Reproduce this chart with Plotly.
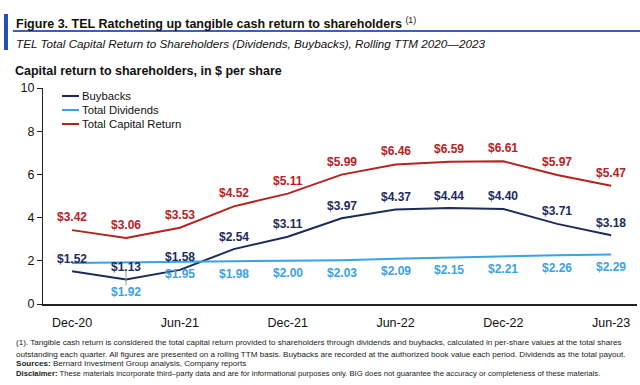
import plotly.graph_objects as go

quarters = ["Dec-20", "Mar-21", "Jun-21", "Sep-21", "Dec-21", "Mar-22",
            "Jun-22", "Sep-22", "Dec-22", "Mar-23", "Jun-23"]
tick_labels = ["Dec-20", "Jun-21", "Dec-21", "Jun-22", "Dec-22", "Jun-23"]
buybacks = [1.52, 1.13, 1.58, 2.54, 3.11, 3.97, 4.37, 4.44, 4.40, 3.71, 3.18]
dividends = [1.90, 1.92, 1.95, 1.98, 2.00, 2.03, 2.09, 2.15, 2.21, 2.26, 2.29]
total_return = [3.42, 3.06, 3.53, 4.52, 5.11, 5.99, 6.46, 6.59, 6.61, 5.97, 5.47]
series_names = ["Buybacks", "Total Dividends", "Total Capital Return"]

NAVY = "#1C2B5E"
LBLUE = "#3AA2E6"
RED = "#B7221F"
FONT = "Liberation Sans, Arial, sans-serif"

W, H = 640, 385
L, R, T, B = 43, 637, 88, 304


def px(x):
    return (x - L) / (R - L)


def py(y):
    return (B - y) / (B - T)


fig = go.Figure()
for name, vals, col in zip(series_names, [buybacks, dividends, total_return], [NAVY, LBLUE, RED]):
    fig.add_trace(go.Scatter(x=quarters, y=vals, mode="lines", name=name,
                             line=dict(color=col, width=2), showlegend=False,
                             hoverinfo="x+y"))

ann = []
# data labels
for i, q in enumerate(quarters):
    ann.append(dict(x=q, y=total_return[i], xref="x", yref="y", text=f"<b>${total_return[i]:.2f}</b>",
                    showarrow=False, yshift=13, font=dict(family=FONT, size=12, color=RED)))
    ann.append(dict(x=q, y=buybacks[i], xref="x", yref="y", text=f"<b>${buybacks[i]:.2f}</b>",
                    showarrow=False, yshift=12.5, font=dict(family=FONT, size=12, color=NAVY)))
    if i == 0:
        continue
    ys = -29 if i == 1 else -12.5
    ann.append(dict(x=q, y=dividends[i], xref="x", yref="y", text=f"<b>${dividends[i]:.2f}</b>",
                    showarrow=False, yshift=ys, font=dict(family=FONT, size=12, color=LBLUE)))

# legend (manual)
shapes = []
for k, (name, col) in enumerate(zip(series_names, [NAVY, LBLUE, RED])):
    yy = [96, 110, 124][k]
    shapes.append(dict(type="line", xref="paper", yref="paper", x0=px(62), x1=px(79),
                       y0=py(yy), y1=py(yy), line=dict(color=col, width=2)))
    ann.append(dict(x=px(80), y=py(yy), xref="paper", yref="paper", text=name, showarrow=False,
                    xanchor="left", yanchor="middle", font=dict(family=FONT, size=11.3, color="#111")))

# leader line for $1.92
shapes.append(dict(type="line", xref="x", yref="y", x0=1, x1=1,
                   y0=dividends[1] - 8 / 21.6, y1=dividends[1] - 23 / 21.6,
                   line=dict(color="#9a9a9a", width=1)))

# header decorations
shapes.append(dict(type="rect", xref="paper", yref="paper", x0=px(4), x1=px(8), y0=py(50), y1=py(14),
                   fillcolor="#2450B8", line=dict(width=0)))
shapes.append(dict(type="line", xref="paper", yref="paper", x0=px(13), x1=px(640), y0=py(31), y1=py(31),
                   line=dict(color="#3B5FBE", width=2)))

# titles
ann.append(dict(x=px(14), y=py(23), xref="paper", yref="paper", xanchor="left", yanchor="middle",
                showarrow=False,
                text="<b>Figure 3. TEL Ratcheting up tangible cash return to shareholders</b> <sup>(1)</sup>",
                font=dict(family=FONT, size=12.5, color="#111")))
ann.append(dict(x=px(14), y=py(43), xref="paper", yref="paper", xanchor="left", yanchor="middle",
                showarrow=False,
                text="<i>TEL Total Capital Return to Shareholders (Dividends, Buybacks), Rolling TTM 2020\u20142023</i>",
                font=dict(family=FONT, size=11.7, color="#111")))
ann.append(dict(x=px(13), y=py(71), xref="paper", yref="paper", xanchor="left", yanchor="middle",
                showarrow=False, text="<b>Capital return to shareholders, in $ per share</b>",
                font=dict(family=FONT, size=12.5, color="#111")))

foot = [
    (342, 8.1, "(1). Tangible cash return is considered the total capital return provided to shareholders through dividends and buybacks, calculated in per-share values at the total shares"),
    (354, 8.1, "outstanding each quarter. All figures are presented on a rolling TTM basis. Buybacks are recorded at the authorized book value each period. Dividends as the total payout."),
    (363, 8.1, "<b>Sources:</b> Bernard Investment Group analysis, Company reports"),
    (373, 7.7, "<b>Disclaimer:</b> These materials incorporate third\u2013party data and are for informational purposes only. BIG does not guarantee the accuracy or completeness of these materials."),
]
for yy, sz, t in foot:
    ann.append(dict(x=px(14), y=py(yy), xref="paper", yref="paper", xanchor="left", yanchor="middle",
                    showarrow=False, text=t, font=dict(family=FONT, size=sz, color="#222")))

fig.update_layout(
    width=W, height=H, margin=dict(l=L, r=W - R, t=T, b=H - B),
    paper_bgcolor="white", plot_bgcolor="white",
    annotations=ann, shapes=shapes, showlegend=False,
    font=dict(family=FONT, color="#111"),
)
fig.update_xaxes(type="category", categoryorder="array", categoryarray=quarters,
                 range=[-0.54, 10.48], tickvals=tick_labels, ticktext=tick_labels,
                 showgrid=False, showline=True, linecolor="#222", linewidth=1.5,
                 ticks="", ticklabelstandoff=6, tickfont=dict(family=FONT, size=12.5, color="#111"),
                 zeroline=False)
fig.update_yaxes(range=[0, 10], tickvals=[0, 2, 4, 6, 8, 10], showgrid=False, showline=True,
                 linecolor="#222", linewidth=1, ticks="outside", ticklen=5, tickcolor="#222",
                 tickfont=dict(family=FONT, size=12.5, color="#111"), zeroline=False)

fig.write_html("out.html")
